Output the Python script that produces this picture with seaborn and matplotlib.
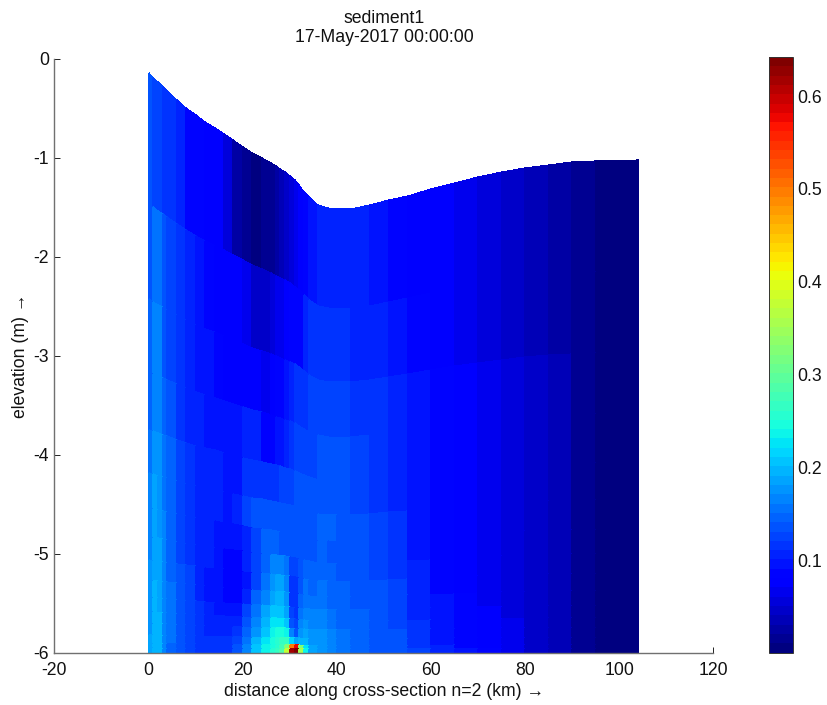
import numpy as np
import matplotlib.pyplot as plt
import seaborn as sns

# =========================
# DATA
# =========================

x_edges = [0, 1, 2, 3, 4, 6, 8, 10, 12, 14, 16, 18, 20, 22, 24, 26, 27, 28, 29, 30, 31,
           32, 33, 34, 36, 38, 40, 43, 47, 51, 55, 60, 65, 70, 75, 80, 85, 90, 95, 100, 104]

surface = [-.15, -.195, -.24, -.285, -.33, -.415, -.495, -.57, -.64, -.70, -.76, -.82, -.89, -.95,
           -1.00, -1.06, -1.09, -1.12, -1.15, -1.185, -1.23, -1.28, -1.345, -1.40, -1.48, -1.515,
           -1.525, -1.52, -1.48, -1.43, -1.385, -1.32, -1.26, -1.20, -1.15, -1.11, -1.075, -1.05,
           -1.04, -1.035, -1.03]

bottom = -6.0

# layer interfaces as fraction of the water column
sigma = [0, .225, .39, .515, .615, .69, .75, .80, .84, .875, .905, .93, .95, .97, .985, .993, 1]

layer_01 = [.14,.13,.125,.12,.115,.105,.09,.085,.08,.078, .06,.025,.012,.01,.012,.02,.03,.04,.05,.058, .065,.08,.09,.095,.105,.11,.105,.105,.095,.09, .08,.075,.065,.055,.045,.035,.025,.015,.008,.004]
layer_02 = [.14,.16,.16,.14,.13,.115,.105,.10,.09,.08, .08,.08,.065,.05,.05,.055,.065,.07,.075,.085, .085,.09,.11,.115,.115,.115,.115,.11,.105,.10, .09,.08,.07,.06,.05,.04,.03,.018,.008,.004]
layer_03 = [.15,.17,.165,.14,.13,.12,.11,.10,.095,.085, .08,.08,.08,.08,.07,.075,.085,.09,.10,.11, .115,.12,.12,.125,.13,.13,.13,.12,.115,.105, .095,.085,.075,.065,.055,.045,.032,.02,.01,.005]
layer_04 = [.15,.17,.165,.15,.14,.12,.11,.105,.098,.10, .095,.095,.11,.11,.08,.09,.095,.10,.11,.12, .125,.13,.13,.13,.135,.135,.135,.125,.12,.11, .095,.085,.076,.065,.055,.045,.032,.02,.01,.005]
layer_05 = [.16,.18,.175,.155,.145,.125,.115,.11,.105,.105, .10,.10,.115,.115,.12,.115,.12,.125,.125,.13, .135,.135,.135,.135,.14,.14,.14,.13,.12,.11, .095,.085,.076,.065,.055,.045,.032,.02,.01,.005]
layer_06 = [.165,.185,.18,.16,.145,.13,.12,.11,.105,.103, .095,.11,.125,.14,.14,.14,.135,.135,.135,.135, .135,.135,.135,.135,.145,.145,.14,.135,.125,.115, .098,.085,.076,.065,.055,.045,.032,.02,.01,.005]
layer_07 = [.17,.185,.18,.165,.145,.13,.12,.11,.105,.10, .092,.095,.11,.13,.15,.15,.145,.135,.135,.135, .135,.135,.135,.135,.145,.14,.14,.135,.13,.12, .10,.087,.077,.066,.055,.045,.032,.02,.01,.005]
layer_08 = [.17,.19,.185,.165,.15,.13,.12,.11,.105,.098, .09,.09,.105,.125,.15,.165,.17,.17,.155,.125, .125,.14,.15,.145,.15,.145,.14,.135,.13,.12, .102,.088,.078,.067,.056,.045,.033,.021,.01,.005]
layer_09 = [.175,.19,.185,.17,.15,.135,.125,.11,.10,.095, .085,.085,.10,.13,.155,.175,.185,.185,.17,.12, .12,.14,.155,.15,.155,.15,.145,.14,.135,.125, .104,.09,.08,.069,.057,.046,.033,.021,.01,.005]
layer_10 = [.18,.195,.19,.17,.155,.135,.125,.11,.10,.095, .088,.09,.11,.145,.17,.19,.195,.195,.18,.12, .12,.15,.16,.155,.16,.15,.145,.14,.135,.125, .106,.092,.082,.071,.058,.047,.034,.021,.01,.005]
layer_11 = [.18,.195,.19,.17,.155,.14,.125,.115,.105,.10, .095,.10,.125,.16,.185,.205,.21,.21,.19,.13, .12,.16,.17,.165,.165,.155,.15,.145,.135,.13, .11,.094,.084,.073,.06,.048,.034,.021,.01,.005]
layer_12 = [.18,.195,.195,.17,.155,.14,.125,.115,.105,.105, .105,.11,.14,.17,.20,.225,.23,.23,.21,.14, .125,.17,.18,.17,.17,.16,.15,.145,.14,.13, .112,.096,.086,.075,.062,.049,.035,.021,.01,.005]
layer_13 = [.18,.20,.195,.17,.155,.14,.125,.115,.11,.11, .11,.12,.15,.18,.21,.235,.245,.25,.235,.17, .14,.18,.19,.175,.175,.165,.155,.145,.14,.135, .114,.098,.088,.077,.063,.05,.035,.021,.01,.005]
layer_14 = [.185,.20,.20,.17,.155,.14,.125,.12,.115,.115, .115,.13,.16,.20,.225,.245,.255,.265,.265,.22, .19,.20,.20,.18,.18,.17,.16,.15,.14,.135, .117,.10,.09,.08,.065,.05,.036,.021,.01,.005]
layer_15 = [.185,.20,.20,.17,.15,.135,.125,.12,.115,.115, .12,.135,.17,.21,.235,.25,.26,.28,.33,.50, .58,.33,.23,.19,.175,.165,.155,.145,.14,.135, .12,.102,.091,.081,.066,.051,.036,.021,.01,.005]
layer_16 = [.185,.20,.20,.17,.15,.135,.125,.12,.115,.115, .12,.14,.17,.21,.24,.255,.265,.29,.38,.62, .64,.36,.24,.19,.175,.165,.155,.145,.14,.135, .122,.104,.092,.082,.066,.051,.036,.021,.01,.005]

layers = [layer_01, layer_02, layer_03, layer_04, layer_05, layer_06, layer_07, layer_08,
          layer_09, layer_10, layer_11, layer_12, layer_13, layer_14, layer_15, layer_16]

x_ticks = [-20, 0, 20, 40, 60, 80, 100, 120]
y_ticks = [-6, -5, -4, -3, -2, -1, 0]
cbar_ticks = [0.1, 0.2, 0.3, 0.4, 0.5, 0.6]

# =========================
# STYLE
# =========================

sns.set_theme(style="ticks")
plt.rcParams['font.family'] = ['Liberation Sans', 'DejaVu Sans']
plt.rcParams['axes.unicode_minus'] = False

W, H = 828, 705
FS = 12.7
jet64 = plt.get_cmap("jet", 64)

fig = plt.figure(figsize=(W / 100, H / 100), dpi=100)
ax = fig.add_axes([54.5 / W, 1 - 652.5 / H, (713.5 - 54.5) / W, (652.5 - 58.5) / H])
cax = fig.add_axes([769.5 / W, 1 - 652.5 / H, (793 - 769.5) / W, (652.5 - 57) / H])

# =========================
# CROSS-SECTION
# =========================

x = np.array(x_edges, dtype=float)
z_top = np.array(surface)
sig = np.array(sigma)
X = np.tile(x, (len(sig), 1))
Z = z_top + sig[:, None] * (bottom - z_top)
C = np.array(layers)

mesh = ax.pcolormesh(X, Z, C, cmap=jet64, vmin=0.001, vmax=0.642, shading='flat',
                     edgecolors='face', linewidth=0.1)

ax.set_xlim(-20, 120)
ax.set_ylim(-6, 0)
ax.set_xticks(x_ticks)
ax.set_yticks(y_ticks)
ax.tick_params(direction='in', length=4.5, width=0.7, color='#222222', labelcolor='#111111',
               labelsize=FS, pad=4)
ax.tick_params(axis='x', pad=7)
ax.set_xlabel("distance along cross-section n=2 (km) →", fontsize=FS, color='#111111', labelpad=3)
ax.set_ylabel("elevation (m) →", fontsize=FS, color='#111111', labelpad=3)
ax.set_title("sediment1\n17-May-2017 00:00:00", fontsize=FS, color='#111111', pad=12, linespacing=1.15)
sns.despine(ax=ax)
for side in ['left', 'bottom']:
    ax.spines[side].set_color('#707070')
    ax.spines[side].set_linewidth(1.0)

# =========================
# COLORBAR
# =========================

cbar = fig.colorbar(mesh, cax=cax, ticks=cbar_ticks)
cbar.ax.set_yticklabels([str(t) for t in cbar_ticks])
cax.tick_params(direction='in', length=4.5, width=0.7, left=True, right=True,
                color='#111111', labelcolor='#111111', labelsize=FS, pad=3)
cbar.outline.set_linewidth(0.7)
cbar.outline.set_edgecolor('#333333')

plt.savefig("out.png", dpi=100)
